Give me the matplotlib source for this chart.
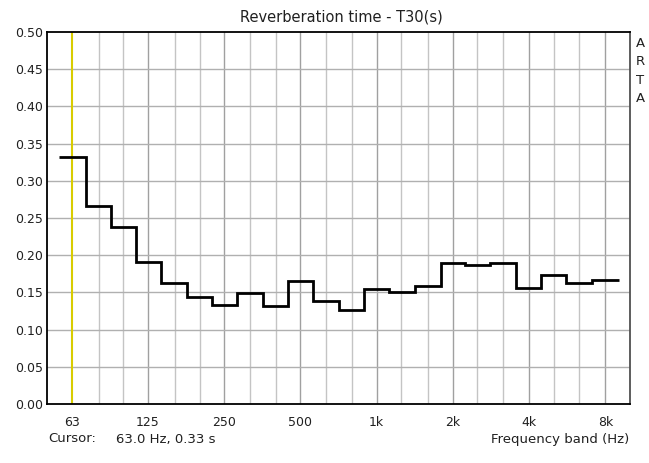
import matplotlib
matplotlib.use("Agg")
import matplotlib.pyplot as plt
import numpy as np

bands = [63, 80, 100, 125, 160, 200, 250, 315, 400, 500, 630, 800,
         1000, 1250, 1600, 2000, 2500, 3150, 4000, 5000, 6300, 8000]
t30 = [0.332, 0.266, 0.238, 0.191, 0.162, 0.144, 0.133, 0.149, 0.132, 0.165, 0.138, 0.126,
       0.154, 0.151, 0.158, 0.190, 0.187, 0.190, 0.156, 0.173, 0.162, 0.167]
grid_bands = [80, 100, 125, 160, 200, 250, 315, 400, 500, 630, 800, 1000, 1250,
              1600, 2000, 2500, 3150, 4000, 5000, 6300, 8000]
tick_freqs = [63, 125, 250, 500, 1000, 2000, 4000, 8000]
tick_labels = ["63", "125", "250", "500", "1k", "2k", "4k", "8k"]
yticks = [0.00, 0.05, 0.10, 0.15, 0.20, 0.25, 0.30, 0.35, 0.40, 0.45, 0.50]
cursor_freq = 63

W, H = 649, 463
fig = plt.figure(figsize=(W / 100, H / 100), dpi=100)
ax = fig.add_axes([47 / W, (H - 404) / H, (630 - 47) / W, (404 - 32) / H])

lb = np.log10(bands)
edges = np.concatenate([[lb[0] - (lb[1] - lb[0]) / 2],
                        (lb[:-1] + lb[1:]) / 2,
                        [lb[-1] + (lb[-1] - lb[-2]) / 2]])
edges_f = 10 ** edges
vals = np.array(t30)

ax.set_xscale("log")
ax.set_xlim(50, 10000)
ax.set_ylim(0, 0.5)

for f in grid_bands:
    c = "#a0a0a0" if f in tick_freqs else "#c4c4c4"
    ax.axvline(f, color=c, lw=1, zorder=1)
for y in yticks[1:-1]:
    ax.axhline(y, color="#b0b0b0", lw=1, zorder=1)

ax.axvline(cursor_freq, color="#d8cc00", lw=1.5, zorder=2)
ax.stairs(vals, edges_f, color="black", lw=2, zorder=3, baseline=None)

ax.set_xticks(tick_freqs)
ax.set_xticklabels(tick_labels)
ax.xaxis.set_minor_locator(matplotlib.ticker.NullLocator())
ax.set_yticks(yticks)
ax.set_yticklabels([f"{v:.2f}" for v in yticks])
ax.tick_params(length=0, labelsize=9, colors="#202020", pad=3)
ax.tick_params(axis="x", pad=9)

for s in ["left", "top", "bottom"]:
    ax.spines[s].set_color("black")
    ax.spines[s].set_linewidth(1.3)
ax.spines["right"].set_color("#505050")
ax.spines["right"].set_linewidth(1.3)

fig.text(341 / W, 1 - 17 / H, "Reverberation time - T30(s)", ha="center", va="center",
         fontsize=10.5, color="#202020")
for i, ch in enumerate("ARTA"):
    fig.text(640 / W, 1 - (43.5 + i * 18.3) / H, ch, ha="center", va="center",
             fontsize=9.5, color="#202020")
fig.text(48 / W, 1 - 439 / H, "Cursor:", ha="left", va="center",
         fontsize=9.5, color="#202020")
fig.text(116 / W, 1 - 439 / H, "63.0 Hz, 0.33 s", ha="left", va="center",
         fontsize=9.5, color="#202020")
fig.text(629 / W, 1 - 439 / H, "Frequency band (Hz)", ha="right", va="center",
         fontsize=9.5, color="#202020")

fig.savefig("out.png", dpi=100)
